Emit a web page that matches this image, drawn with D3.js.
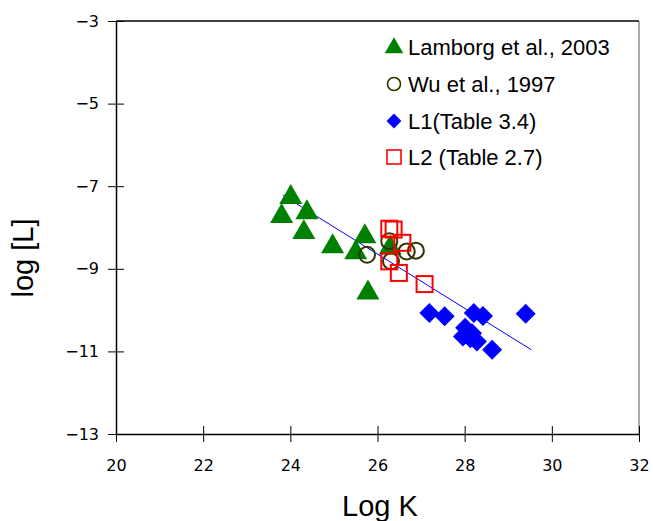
<!DOCTYPE html>
<html><head><meta charset="utf-8">
<script src="https://cdn.jsdelivr.net/npm/d3@7"></script>
<style>body{margin:0;background:#fff}</style>
</head><body>
<svg id="c" width="653" height="521"></svg>
<script>
const xTicks = [20,22,24,26,28,30,32];
const yTicks = [-3,-5,-7,-9,-11,-13];
const lamborgX = [24.01,23.80,24.38,24.31,24.97,25.50,25.71,25.78,26.29];
const lamborgY = [-7.27,-7.73,-7.64,-8.12,-8.46,-8.61,-8.22,-9.58,-8.49];
const wuX = [25.76,26.27,26.31,26.67,26.88];
const wuY = [-8.66,-8.33,-8.82,-8.58,-8.56];
const l1X = [27.19,27.54,28.21,28.42,29.40,28.01,27.96,28.17,28.28,28.63,28.13];
const l1Y = [-10.07,-10.15,-10.07,-10.14,-10.09,-10.43,-10.64,-10.56,-10.76,-10.96,-10.68];
const l2X = [26.27,26.37,26.57,26.27,26.49,27.08];
const l2Y = [-8.03,-8.05,-8.37,-8.82,-9.10,-9.37];
const fitX = [23.83,29.53];
const fitY = [-7.22,-10.96];
const legendLabels = ["Lamborg et al., 2003","Wu et al., 1997","L1(Table 3.4)","L2 (Table 2.7)"];

const svg = d3.select("#c");
const x = d3.scaleLinear().domain([20,32]).range([116,639]);
const y = d3.scaleLinear().domain([-13,-3]).range([434,21]);
const fmt = d => d < 0 ? "\u2212" + Math.abs(d) : String(d);

// frame top/right
svg.append("line").attr("x1",116).attr("x2",639).attr("y1",21).attr("y2",21).attr("stroke","#000").attr("stroke-width",1.5);
svg.append("line").attr("x1",639).attr("x2",639).attr("y1",21).attr("y2",434).attr("stroke","#555").attr("stroke-width",1);

// axes
const xa = svg.append("g").attr("transform","translate(0,434)")
  .call(d3.axisBottom(x).tickValues(xTicks).tickSize(8).tickSizeOuter(0).tickFormat(fmt));
xa.select(".domain").attr("stroke-width",1.5);
xa.selectAll(".tick line").attr("y1",-8).attr("y2",8);
xa.selectAll("text").attr("font-family","DejaVu Sans").attr("font-size",16).attr("fill","#000").attr("dy","1.6em");

const ya = svg.append("g").attr("transform","translate(116,0)")
  .call(d3.axisLeft(y).tickValues(yTicks).tickSize(8).tickSizeOuter(0).tickFormat(fmt));
ya.select(".domain").attr("stroke-width",1.5);
ya.selectAll(".tick line").attr("x1",-8).attr("x2",8);
ya.selectAll("text").attr("font-family","DejaVu Sans").attr("font-size",16).attr("fill","#000").attr("x",-17);

// titles
svg.append("text").attr("x",380).attr("y",516).attr("text-anchor","middle")
  .attr("font-family","Liberation Sans").attr("font-size",29).text("Log K");
svg.append("text").attr("transform","translate(33,258) rotate(-90)").attr("text-anchor","middle")
  .attr("font-family","Liberation Sans").attr("font-size",29).text("log [L]");

// fit line
svg.append("line").attr("x1",x(fitX[0])).attr("y1",y(fitY[0])).attr("x2",x(fitX[1])).attr("y2",y(fitY[1]))
  .attr("stroke","#0000ff").attr("stroke-width",1);

const tri = d3.symbol().type(d3.symbolTriangle).size(230);
const dia = d3.symbol().type(d3.symbolSquare).size(200);

const g = svg.append("g");
g.selectAll(".tri").data(d3.zip(lamborgX,lamborgY)).join("path")
  .attr("d",tri).attr("transform",d=>`translate(${x(d[0])},${y(d[1])})`).attr("fill","#008000");
g.selectAll(".dia").data(d3.zip(l1X,l1Y)).join("path")
  .attr("d",dia).attr("transform",d=>`translate(${x(d[0])},${y(d[1])}) rotate(45)`).attr("fill","#0000ff");
g.selectAll(".circ").data(d3.zip(wuX,wuY)).join("circle")
  .attr("cx",d=>x(d[0])).attr("cy",d=>y(d[1])).attr("r",8).attr("fill","none").attr("stroke","#333300").attr("stroke-width",2);
g.selectAll(".sq").data(d3.zip(l2X,l2Y)).join("rect")
  .attr("x",d=>x(d[0])-8).attr("y",d=>y(d[1])-8).attr("width",16).attr("height",16)
  .attr("fill","none").attr("stroke","#ff0000").attr("stroke-width",2);

// legend
const ly = [47,84,121,157];
const leg = svg.append("g");
leg.append("path").attr("d",d3.symbol().type(d3.symbolTriangle).size(150)).attr("transform",`translate(394,${ly[0]+1})`).attr("fill","#008000");
leg.append("circle").attr("cx",394).attr("cy",ly[1]).attr("r",6.5).attr("fill","none").attr("stroke","#333300").attr("stroke-width",1.6);
leg.append("path").attr("d",d3.symbol().type(d3.symbolSquare).size(110)).attr("transform",`translate(394,${ly[2]}) rotate(45)`).attr("fill","#0000ff");
leg.append("rect").attr("x",387).attr("y",ly[3]-7).attr("width",14).attr("height",14).attr("fill","none").attr("stroke","#ff0000").attr("stroke-width",1.6);
leg.selectAll("text").data(legendLabels).join("text")
  .attr("x",408).attr("y",(d,i)=>ly[i]+8).attr("font-family","Liberation Sans").attr("font-size",22).text(d=>d);
</script>
</body></html>
